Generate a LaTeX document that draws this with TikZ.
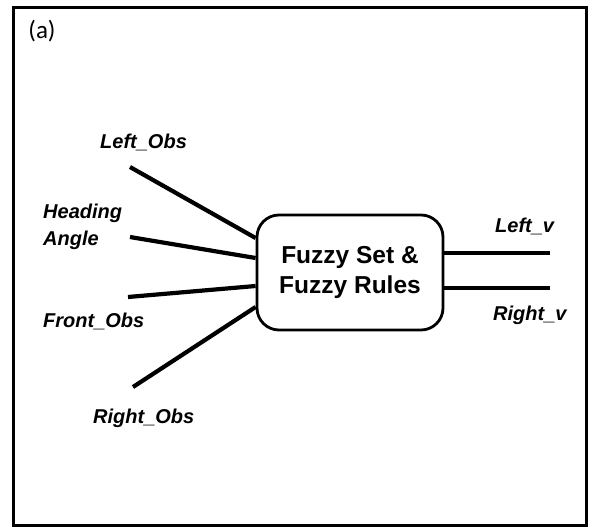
\documentclass[tikz,border=0pt]{standalone}
\usepackage{fontspec}
\setmainfont{Liberation Sans}
\newfontfamily\capfont{Carlito}
\begin{document}
\begin{tikzpicture}[x=1pt,y=-1pt,
  lbl/.style={font=\fontsize{20}{27}\selectfont\bfseries\itshape, inner sep=0pt, anchor=base west},
  wire/.style={line width=4.2pt},
  fbox/.style={draw, line width=2.8pt, rounded corners=22pt, minimum width=186pt, minimum height=115pt,
    align=center, font=\fontsize{24.5}{30}\selectfont\bfseries}]
\useasboundingbox (0,0) rectangle (594,527);
\draw[line width=3pt] (13,8) rectangle (586,525);
\node[font=\capfont\fontsize{25}{27}\selectfont, inner sep=0pt] (cap) at (42,31) {(a)};
\node[fbox] (box) at (350,272.5) {Fuzzy Set \&\\Fuzzy Rules};
\node[lbl] (lobs) at (100,148) {Left\_Obs};
\node[lbl] (head) at (43,218) {Heading};
\node[lbl] (ang) at (43,245) {Angle};
\node[lbl] (fobs) at (43,327) {Front\_Obs};
\node[lbl] (robs) at (93,423) {Right\_Obs};
\node[lbl] (lv) at (495,232) {Left\_v};
\node[lbl] (rv) at (493,320) {Right\_v};
\coordinate (a1) at (130,167);
\coordinate (a2) at (130,237);
\coordinate (a3) at (128,297);
\coordinate (a4) at (133,387);
\coordinate (b1) at (550,253);
\coordinate (b2) at (550,288);
\draw[wire] (a1) -- ([yshift=34.5pt]box.west);
\draw[wire] (a2) -- ([yshift=14.5pt]box.west);
\draw[wire] (a3) -- ([yshift=-13.5pt]box.west);
\draw[wire] (a4) -- ([yshift=-34.5pt]box.west);
\draw[wire] ([yshift=19.5pt]box.east) -- (b1);
\draw[wire] ([yshift=-15.5pt]box.east) -- (b2);
\end{tikzpicture}
\end{document}
